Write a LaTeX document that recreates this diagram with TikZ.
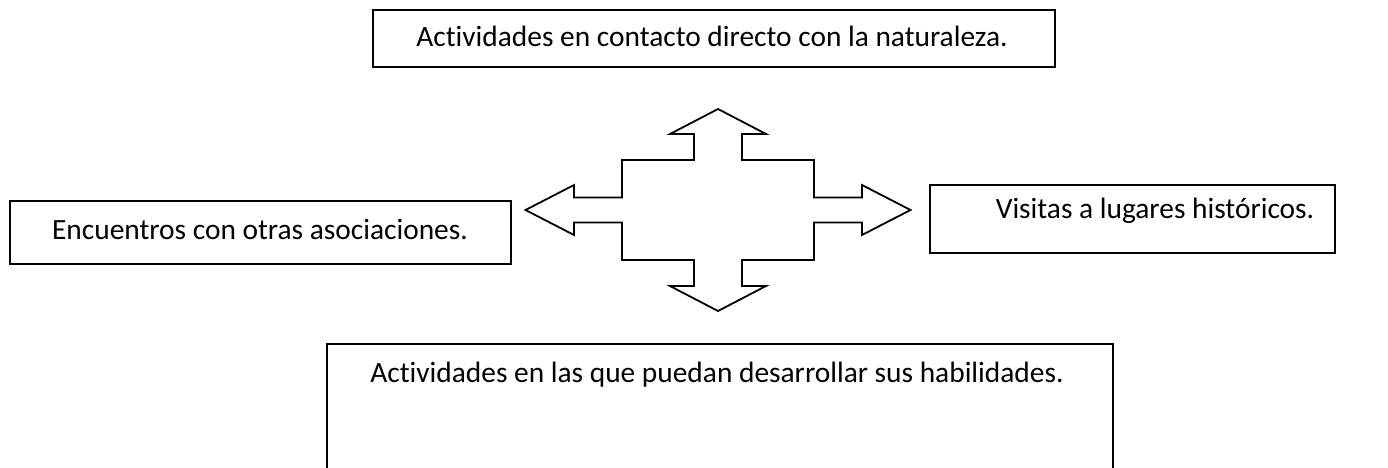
\documentclass[tikz,border=0pt]{standalone}
\usepackage{fontspec}
\setmainfont[Ligatures=NoCommon]{Carlito}
\usepackage{tikz}

\begin{document}
\begin{tikzpicture}[x=1pt,y=-1pt,line width=1.8pt,
  box/.style={draw,rectangle,anchor=north west,inner sep=0pt},
  txt/.style={anchor=base,inner sep=0pt,font=\fontsize{29.4}{35}\selectfont}]
  \clip (0,0) rectangle (1388,468);
  \fill[white] (0,0) rectangle (1388,468);
  \node[box,minimum width=682,minimum height=57] (top) at (372,9) {};
  \node[txt] (toptext) at (712,47) {Actividades en contacto directo con la naturaleza.};
  \node[box,minimum width=501,minimum height=63] (left) at (9,200) {};
  \node[txt] (lefttext) at (260,239) {Encuentros con otras asociaciones.};
  \node[box,minimum width=405,minimum height=68] (right) at (929,184) {};
  \node[txt] (righttext) at (1155,218) {Visitas a lugares hist\'oricos.};
  \node[box,minimum width=786,minimum height=160] (bottom) at (326,343) {};
  \node[txt] (bottomtext) at (717,382) {Actividades en las que puedan desarrollar sus habilidades.};
  \coordinate (c) at (718,210);
  \draw[shift={(c)}] (0,-101) -- (48,-76) -- (24,-76) -- (24,-50) -- (96,-50) -- (96,-12.5)
    -- (144,-12.5) -- (144,-25) -- (192.5,0) -- (144,25) -- (144,12.5) -- (96,12.5)
    -- (96,50) -- (24,50) -- (24,76) -- (48,76) -- (0,101) -- (-48,76) -- (-24,76)
    -- (-24,50) -- (-96,50) -- (-96,12.5) -- (-144,12.5) -- (-144,25) -- (-192.5,0)
    -- (-144,-25) -- (-144,-12.5) -- (-96,-12.5) -- (-96,-50) -- (-24,-50) -- (-24,-76)
    -- (-48,-76) -- cycle;
\end{tikzpicture}
\end{document}
